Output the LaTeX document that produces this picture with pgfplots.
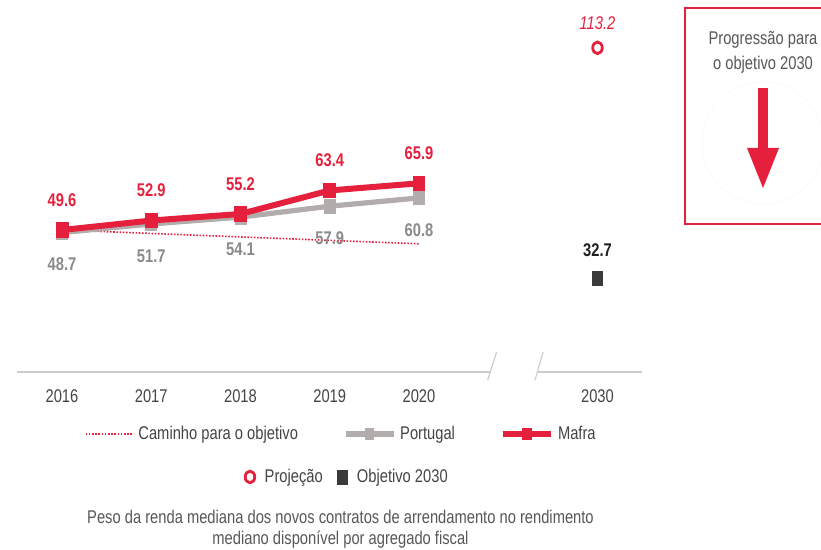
\documentclass[border=0pt]{standalone}
\usepackage{fontspec}
\setmainfont{Liberation Sans}[FakeStretch=0.8]
\usepackage{pgfplots}
\pgfplotsset{compat=1.18}
\definecolor{mred}{RGB}{228,32,60}
\definecolor{pgray}{RGB}{178,172,172}
\definecolor{lblgray}{RGB}{138,138,138}
\definecolor{txtgray}{RGB}{68,68,68}
\definecolor{axgray}{RGB}{205,205,205}
\definecolor{objdark}{RGB}{58,58,58}
\definecolor{faint}{RGB}{249,249,249}
\begin{document}
\fontsize{9.2}{11}\selectfont
\begin{tikzpicture}
\begin{scope}[x=0.5pt,y=-0.5pt]
  \coordinate (axSW) at (17.375,372.1);
\end{scope}
\pgfplotsset{
  commonax/.style={
    at={(axSW)}, anchor=south west,
    scale only axis, width=312.375pt, height=171.9pt,
    xmin=-0.5, xmax=6.5, ymin=0, ymax=120,
    clip=false,
    axis line style={draw=none},
    ytick=\empty,
    major tick length=0pt,
    legend cell align=left,
  },
  valfmt/.style={nodes near coords={\pgfmathprintnumber[fixed,fixed zerofill,precision=1,assume math mode=true]{\pgfplotspointmeta}}},
}
\begin{axis}[commonax,
  xtick={0,1,2,3,4,6},
  xticklabels={2016,2017,2018,2019,2020,2030},
  xticklabel style={text=txtgray, yshift=-5.5pt},
  legend columns=3,
  legend style={at={(0.520,-0.18)}, anchor=center, draw=none, fill=none, text=txtgray,
     /tikz/every even column/.append style={column sep=20.5pt}},
  legend image code/.code={\draw[mark repeat=2,mark phase=2,#1] plot coordinates {(0pt,0pt) (12pt,0pt) (24pt,0pt)};},
  legend image post style={mark size=2.6pt},
]
\draw[axgray, line width=1pt] (axis cs:-0.5,0) -- (axis cs:4.795,0);
\draw[axgray, line width=1pt] (axis cs:5.333,0) -- (axis cs:6.5,0);
\draw[axgray, line width=0.6pt] (axis cs:4.77,-2.8) -- (axis cs:4.87,7);
\draw[axgray, line width=0.6pt] (axis cs:5.30,-2.8) -- (axis cs:5.39,7);
\addplot[mred, line width=0.8pt, dash pattern=on 0.8pt off 0.8pt, no marks] coordinates {(0,49.6) (4,44.77)};
\addlegendentry{Caminho para o objetivo}
\addplot[pgray, line width=2.6pt, mark=square*, mark size=3.4pt, mark options={solid, line width=0.4pt, fill=pgray, xscale=0.82},
  valfmt, every node near coord/.append style={anchor=center, yshift=-16pt, font=\bfseries, text=lblgray}]
  coordinates {(0,48.7) (1,51.7) (2,54.1) (3,57.9) (4,60.8)};
\addlegendentry{Portugal}
\addplot[mred, line width=3pt, mark=square*, mark size=3.6pt, mark options={solid, line width=0.4pt, fill=mred, xscale=0.82},
  valfmt, every node near coord/.append style={anchor=center, yshift=15pt, font=\bfseries, text=mred}]
  coordinates {(0,49.6) (1,52.9) (2,55.2) (3,63.4) (4,65.9)};
\addlegendentry{Mafra}
\end{axis}
\begin{axis}[commonax,
  xtick=\empty,
  legend columns=2,
  legend style={at={(0.53,-0.305)}, anchor=center, draw=none, fill=none, text=txtgray,
     /tikz/every odd column/.append style={column sep=3pt},
     /tikz/every even column/.append style={column sep=5pt}},
  legend image code/.code={\draw[mark repeat=2,mark phase=2,#1] plot coordinates {(-1pt,0pt) (0pt,0pt) (1pt,0pt)};},
]
\addplot[only marks, mark=o, mark size=2.9pt, mark options={draw=mred, line width=1.4pt, xscale=0.82},
  valfmt, every node near coord/.append style={anchor=center, yshift=12.5pt, font=\itshape, text=mred}]
  coordinates {(6,113.2)};
\addlegendentry{Projeção}
\addplot[only marks, mark=square*, mark size=3.5pt, mark options={draw=objdark, line width=0.3pt, fill=objdark, xscale=0.72},
  valfmt, every node near coord/.append style={anchor=center, yshift=14pt, font=\bfseries, text=black!88}]
  coordinates {(6,32.7)};
\addlegendentry{Objetivo 2030}
\end{axis}
\begin{scope}[x=0.5pt,y=-0.5pt]
  \draw[faint, line width=0.4pt] (763,143) circle (61);
  \draw[mred, line width=1pt] (685,8) rectangle (830,224);
  \fill[mred] (758,88) rectangle (768,149);
  \fill[mred] (747,148) -- (779,148) -- (763,188) -- cycle;
  \node[text=txtgray!90, align=center, font=\fontsize{9.2}{12.5}\selectfont, inner sep=0pt] at (763,52.5) {Progressão para\\o objetivo 2030};
  \node[text=txtgray!90, align=center, font=\fontsize{9.2}{10.5}\selectfont, inner sep=0pt] at (340.5,529.5) {Peso da renda mediana dos novos contratos de arrendamento no rendimento\\mediano disponível por agregado fiscal};
  \pgfresetboundingbox
  \useasboundingbox (0,0) rectangle (821,550);
\end{scope}
\end{tikzpicture}
\end{document}
